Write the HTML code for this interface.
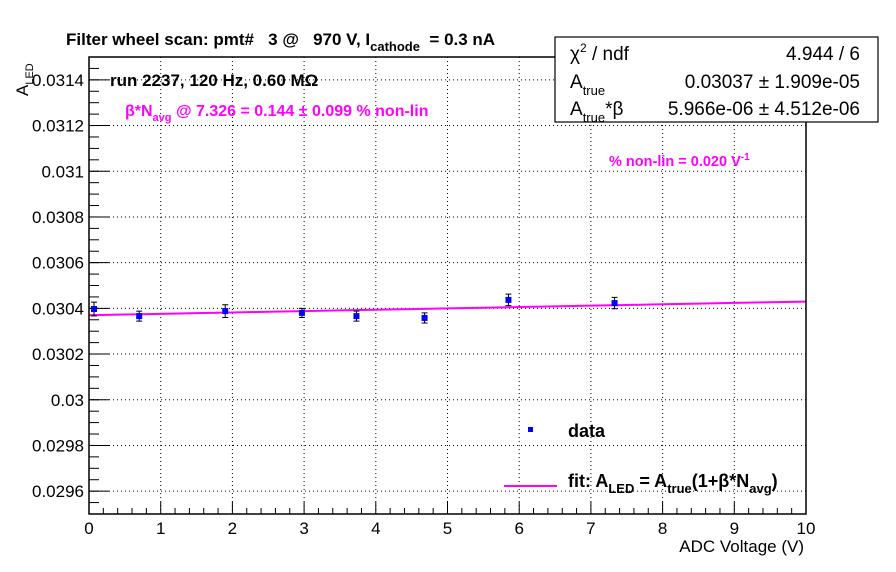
<!DOCTYPE html>
<html><head><meta charset="utf-8"><style>
body{margin:0;background:#fff}
svg{display:block;font-family:"Liberation Sans",sans-serif}
text{white-space:pre}
</style></head><body>
<svg id="chart" width="896" height="572" viewBox="0 0 896 572">
<rect width="896" height="572" fill="#fff"/>
<g id="grid"></g>
<g id="axes"></g>
<g id="marks"></g>
<rect x="89" y="57" width="717" height="457" fill="none" stroke="#000" stroke-width="1.5"/>
<text x="66" y="45" font-size="17" font-weight="bold" xml:space="preserve">Filter wheel scan: pmt#   3 @   970 V, I<tspan font-size="13" dy="6">cathode</tspan><tspan dy="-6">  = 0.3 nA</tspan></text>
<text x="110" y="86" font-size="17" font-weight="bold">run 2237, 120 Hz, 0.60 MΩ</text>
<text x="125" y="116" font-size="16" font-weight="bold" fill="#ff00ff" xml:space="preserve">β*N<tspan font-size="11" dy="5">avg</tspan><tspan dy="-5"> @ 7.326 = 0.144 ± 0.099 % non-lin</tspan></text>
<text x="609" y="166" font-size="14.5" font-weight="bold" fill="#ff00ff">% non-lin = 0.020 V<tspan font-size="10" dy="-6">-1</tspan></text>
<text transform="translate(28,96) rotate(-90)" font-size="17">A<tspan font-size="11" dy="5">LED</tspan></text>
<text x="804" y="552" font-size="17" text-anchor="end">ADC Voltage (V)</text>
<g>
<rect x="555" y="37" width="323" height="85" fill="#fff" stroke="#000" stroke-width="1.2"/>
<text x="570" y="60" font-size="19">χ<tspan font-size="12" dy="-8">2</tspan><tspan dy="8"> / ndf</tspan></text>
<text x="860" y="60" font-size="19" text-anchor="end">4.944 / 6</text>
<text x="570" y="88" font-size="19">A<tspan font-size="13" dy="7">true</tspan></text>
<text x="860" y="88" font-size="19" text-anchor="end">0.03037 ± 1.909e-05</text>
<text x="570" y="115" font-size="19">A<tspan font-size="13" dy="7">true</tspan><tspan dy="-7">*β</tspan></text>
<text x="860" y="115" font-size="19" text-anchor="end">5.966e-06 ± 4.512e-06</text>
</g>
<g>
<rect x="528" y="427" width="5" height="5" fill="#0000ff"/>
<text x="568" y="437" font-size="18" font-weight="bold">data</text>
<line x1="504" y1="486" x2="557" y2="486" stroke="#ff00ff" stroke-width="2"/>
<text x="568" y="487" font-size="18" font-weight="bold">fit: A<tspan font-size="13" dy="6">LED</tspan><tspan dy="-6"> = A</tspan><tspan font-size="13" dy="6">true</tspan><tspan dy="-6">(1+β*N</tspan><tspan font-size="13" dy="6">avg</tspan><tspan dy="-6">)</tspan></text>
</g>
</svg>
<script>
const xVals=[0.07,0.70,1.90,2.97,3.73,4.68,5.85,7.33];
const yVals=[0.030397,0.030366,0.030388,0.030380,0.030366,0.030358,0.030437,0.030423];
const yErrs=[0.000030,0.000022,0.000028,0.000020,0.000022,0.000022,0.000025,0.000025];
const fitA=0.03037;
const fitSlope=5.966e-6;
const xTicks=[0,1,2,3,4,5,6,7,8,9,10];
const yTicks=[0.0296,0.0298,0.03,0.0302,0.0304,0.0306,0.0308,0.031,0.0312,0.0314];
const yTickLabels=["0.0296","0.0298","0.03","0.0302","0.0304","0.0306","0.0308","0.031","0.0312","0.0314"];
const L=89,R=806,T=57,B=514,X0=0,X1=10,Y0=0.0295,Y1=0.0315;
const sx=v=>L+(v-X0)/(X1-X0)*(R-L);
const sy=v=>B-(v-Y0)/(Y1-Y0)*(B-T);
const NS="http://www.w3.org/2000/svg";
function mk(tag,attrs,parent){const e=document.createElementNS(NS,tag);for(const k in attrs)e.setAttribute(k,attrs[k]);parent.appendChild(e);return e;}
const grid=document.getElementById('grid'),axes=document.getElementById('axes'),marks=document.getElementById('marks');
xTicks.forEach(t=>{const x=sx(t);
 if(t>0&&t<10){const g=mk('line',{x1:x,y1:T,x2:x,y2:B,stroke:'#000','stroke-width':1,'stroke-dasharray':'1,3'},grid);
 
 }
 const tk=mk('line',{x1:x,y1:B,x2:x,y2:B-12,stroke:'#000'},axes);
 
 
 const lb=mk('text',{x:x,y:B+20,'font-size':17,'text-anchor':'middle'},axes);lb.textContent=t;
 
 
 if(t<10)for(let k=1;k<5;k++){const xm=sx(t+k*0.2);mk('line',{x1:xm,y1:B,x2:xm,y2:B-6,stroke:'#000'},axes);}
});
yTicks.forEach((t,i)=>{const y=sy(t);
 const g=mk('line',{x1:L,y1:y,x2:R,y2:y,stroke:'#000','stroke-width':1,'stroke-dasharray':'1,3'},grid);
 
 
 const tk=mk('line',{x1:L,y1:y,x2:L+20,y2:y,stroke:'#000'},axes);
 
 
 const lb=mk('text',{x:L-5,y:y+6,'font-size':17,'text-anchor':'end'},axes);lb.textContent=yTickLabels[i];
 
 
});
for(let v=Y0;v<=Y1+1e-9;v+=0.00005){const y=sy(v);mk('line',{x1:L,y1:y,x2:L+10,y2:y,stroke:'#000'},axes);}
const pts=[];for(let i=0;i<=20;i++){const xv=X0+i*0.5;pts.push(sx(xv)+','+sy(fitA+fitSlope*xv));}
const fl=mk('polyline',{points:pts.join(' '),fill:'none',stroke:'#ff00ff','stroke-width':2},marks);


xVals.forEach((xv,i)=>{const x=sx(xv),y=sy(yVals[i]),e1=sy(yVals[i]+yErrs[i]),e2=sy(yVals[i]-yErrs[i]);
 const eb=mk('path',{d:`M${x},${e1}V${e2}M${x-3},${e1}H${x+3}M${x-3},${e2}H${x+3}`,stroke:'#000',fill:'none'},marks);
 
 
 const p=mk('rect',{x:x-3,y:y-3,width:6,height:6,fill:'#0000ff'},marks);
 
 
});
</script>
</body></html>
